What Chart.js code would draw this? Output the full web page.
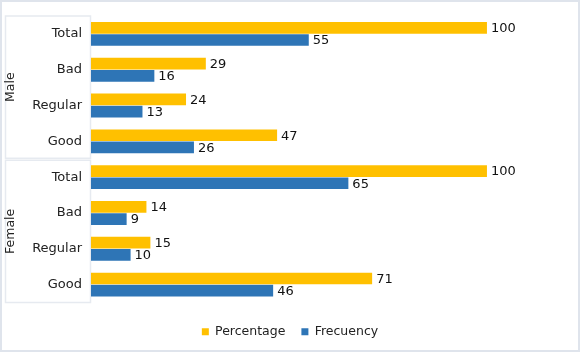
<!DOCTYPE html>
<html>
<head>
<meta charset="utf-8">
<script src="https://cdn.jsdelivr.net/npm/chart.js@4/dist/chart.umd.min.js"></script>
<style>
  html, body { margin: 0; padding: 0; background: #fff; }
  #wrap { width: 580px; height: 352px; }
</style>
</head>
<body>
<div id="wrap"><canvas id="barChart" width="580" height="352"></canvas></div>
<script>
// Chart values
const categories = ['Total', 'Bad', 'Regular', 'Good', 'Total', 'Bad', 'Regular', 'Good'];
const groups = ['Male', 'Female'];
const percentage = [100, 29, 24, 47, 100, 14, 15, 71];
const frecuency = [55, 16, 13, 26, 65, 9, 10, 46];

const FONT = 'DejaVu Sans, Verdana, sans-serif';

// Draws the frame and the Male / Female group boxes
const groupBoxes = {
    id: 'groupBoxes',
    beforeDraw(chart) {
        const ctx = chart.ctx;
        const y = chart.scales.y;
        ctx.save();
        ctx.strokeStyle = '#dfe4ec';
        ctx.lineWidth = 2;
        ctx.strokeRect(1, 1, chart.width - 2, chart.height - 2);
        const step = y.getPixelForValue(1) - y.getPixelForValue(0);
        groups.forEach((g, i) => {
            const top = y.getPixelForValue(i * 4) - step / 2 + (i ? 1 : 0);
            const bottom = y.getPixelForValue(i * 4 + 3) + step / 2 - (i ? 0 : 1);
            ctx.strokeStyle = '#e6eaf0';
            ctx.lineWidth = 1.5;
            ctx.strokeRect(5.5, top, chart.chartArea.left - 6, bottom - top);
            ctx.fillStyle = '#222';
            ctx.font = '12.5px ' + FONT;
            ctx.textAlign = 'center';
            ctx.textBaseline = 'middle';
            ctx.translate(11, (top + bottom) / 2);
            ctx.rotate(-Math.PI / 2);
            ctx.fillText(g, 0, 0);
            ctx.setTransform(1, 0, 0, 1, 0, 0);
        });
        ctx.restore();
    }
};

// Writes the value next to the end of each bar
const valueLabels = {
    id: 'valueLabels',
    afterDatasetsDraw(chart) {
        const ctx = chart.ctx;
        ctx.save();
        ctx.font = '13px ' + FONT;
        ctx.fillStyle = '#111';
        ctx.textAlign = 'left';
        ctx.textBaseline = 'middle';
        chart.data.datasets.forEach((ds, di) => {
            chart.getDatasetMeta(di).data.forEach((bar, i) => {
                ctx.fillText(ds.data[i], bar.x + 4, bar.y + 1);
            });
        });
        ctx.restore();
    }
};

new Chart(document.getElementById('barChart').getContext('2d'), {
    type: 'bar',
    data: {
        labels: categories,
        datasets: [{
            label: 'Percentage',
            data: percentage,
            backgroundColor: '#FFC000',
            barPercentage: 0.96,
            categoryPercentage: 0.68
        }, {
            label: 'Frecuency',
            data: frecuency,
            backgroundColor: '#2E75B6',
            barPercentage: 0.96,
            categoryPercentage: 0.68
        }]
    },
    options: {
        indexAxis: 'y',
        responsive: false,
        animation: false,
        layout: {
            padding: { top: 16, right: 0, bottom: 4, left: 0 }
        },
        scales: {
            x: {
                min: 0,
                max: 123.5,
                grid: { display: false },
                border: { display: false },
                ticks: { display: false },
                afterFit(scale) { scale.height = 7; }
            },
            y: {
                grid: { display: false },
                border: { display: false },
                ticks: {
                    color: '#222',
                    font: { family: FONT, size: 13 },
                    padding: 1
                },
                afterFit(scale) { scale.width = 91; }
            }
        },
        plugins: {
            legend: {
                position: 'bottom',
                labels: {
                    color: '#222',
                    font: { family: FONT, size: 12.5 },
                    boxWidth: 7,
                    boxHeight: 7,
                    padding: 16
                }
            },
            tooltip: { enabled: false }
        }
    },
    plugins: [groupBoxes, valueLabels]
});
</script>
</body>
</html>
